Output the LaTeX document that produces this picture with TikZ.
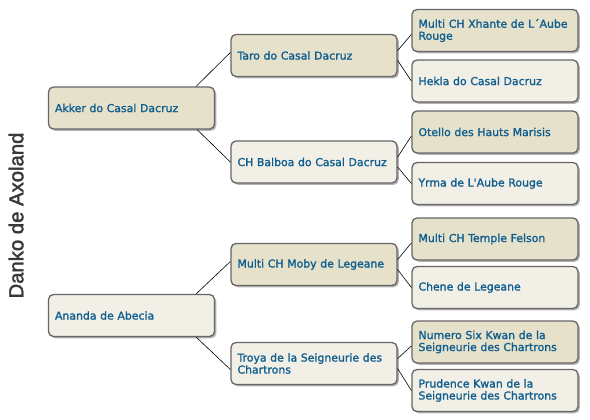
\documentclass[tikz,border=0pt]{standalone}
\usepackage{fontspec}
\setmainfont{DejaVu Sans}
\newfontfamily\boxfont{DejaVu Sans}[FakeBold=1.5]
\newfontfamily\titlefont{Liberation Sans}[FakeBold=2]
\usepackage{xcolor}
\usetikzlibrary{positioning,shadows}
\definecolor{sirefill}{HTML}{E6E1CB}
\definecolor{damfill}{HTML}{F2EFE6}
\definecolor{boxline}{HTML}{666666}
\definecolor{nametext}{HTML}{0F5E8E}
\definecolor{titlegray}{HTML}{383838}

\begin{document}
\begin{tikzpicture}[
  x=1pt, y=-1pt,
  font=\boxfont\fontsize{10.9}{12}\selectfont,
  dog/.style={draw=boxline, line width=1.3pt, rounded corners=5pt, align=left, text=nametext,
    inner xsep=6.5pt, inner ysep=2pt, text width=153pt, minimum height=42pt,
    drop shadow={shadow xshift=1.8pt, shadow yshift=-1.8pt, fill=black!50, opacity=0.6}},
  sire/.style={dog, fill=sirefill},
  dam/.style={dog, fill=damfill},
  ln/.style={draw=black, line width=0.6pt}]
\useasboundingbox (0,0) rectangle (590,420);
% ---- title
\node[rotate=90, font=\titlefont\fontsize{20.3}{24}\selectfont, text=titlegray] (title) at (16,215.5) {Danko de Axoland};
% ---- parents
\node[sire] (akker) at (131.5,108) {Akker do Casal Dacruz};
\node[dam] (ananda) at (131.5,315.5) {Ananda de Abecia};
% ---- grandparents
\node[sire] (taro) at (314,55.5) {Taro do Casal Dacruz};
\node[dam] (balboa) at (314,162) {CH Balboa do Casal Dacruz};
\node[sire] (moby) at (314,264.5) {Multi CH Moby de Legeane};
\node[dam] (troya) at (314,363.5) {Troya de la Seigneurie des\\Chartrons};
% ---- great-grandparents
\node[sire] (xhante) at (495,30.5) {Multi CH Xhante de L´Aube\\Rouge};
\node[dam] (hekla) at (495,81) {Hekla do Casal Dacruz};
\node[sire] (otello) at (495,132) {Otello des Hauts Marisis};
\node[dam] (yrma) at (495,183.5) {Yrma de L'Aube Rouge};
\node[sire] (felson) at (495,239) {Multi CH Temple Felson};
\node[dam] (chene) at (495,287.5) {Chene de Legeane};
\node[sire] (numero) at (495,342) {Numero Six Kwan de la\\Seigneurie des Chartrons};
\node[dam] (prudence) at (495,390.5) {Prudence Kwan de la\\Seigneurie des Chartrons};
% ---- links
\draw[ln] ([xshift=-19pt]akker.north east) -- ([yshift=3pt]taro.west);
\draw[ln] ([xshift=-18pt]akker.south east) -- (balboa.west);
\draw[ln] ([xshift=-19pt]ananda.north east) -- ([yshift=3pt]moby.west);
\draw[ln] ([xshift=-19pt]ananda.south east) -- ([yshift=-6pt]troya.west);
\draw[ln] ([yshift=5pt]taro.east) -- ([yshift=-4pt]xhante.west);
\draw[ln] ([yshift=-5pt]taro.east) -- (hekla.west);
\draw[ln] ([yshift=5pt]balboa.east) -- ([yshift=-4pt]otello.west);
\draw[ln] ([yshift=-5pt]balboa.east) -- (yrma.west);
\draw[ln] ([yshift=5pt]moby.east) -- ([yshift=-4pt]felson.west);
\draw[ln] ([yshift=-5pt]moby.east) -- (chene.west);
\draw[ln] ([yshift=5pt]troya.east) -- ([yshift=-4pt]numero.west);
\draw[ln] ([yshift=-5pt]troya.east) -- (prudence.west);
\end{tikzpicture}
\end{document}
